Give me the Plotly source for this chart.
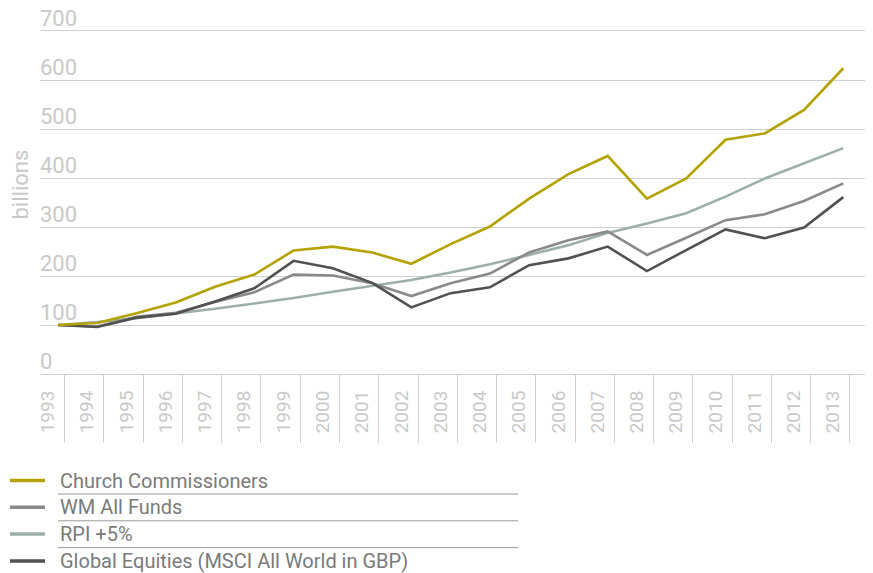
import plotly.graph_objects as go

years = list(range(1993, 2014))

series_names = [
    "Church Commissioners",
    "WM All Funds",
    "RPI +5%",
    "Global Equities (MSCI All World in GBP)",
]

church = [100, 104, 124, 146, 178, 203, 252, 260, 248, 225, 265, 301, 358, 408,
          445, 358, 399, 478, 491, 539, 624]
wm_all = [100, 97, 117, 125, 147, 167, 203, 201, 185, 159, 185, 205, 248, 273,
          291, 243, 278, 314, 326, 353, 389]
rpi_5 = [100, 106, 114, 123, 133, 144, 155, 168, 180, 192, 207, 224, 243, 263,
         288, 307, 328, 362, 399, 430, 461]
global_eq = [100, 96, 115, 123, 148, 175, 231, 216, 186, 136, 165, 177, 222, 236,
             260, 210, 253, 295, 277, 299, 361]

y_ticks = [0, 100, 200, 300, 400, 500, 600, 700]

_COLORS = ["#B3A200", "#8A8A8A", "#9DAFA9", "#515151"]
_FONT = "Roboto, Arial, sans-serif"
_TICK_GREY = "#C9C9C9"
_GRID = "#CFCFCF"

# the page body has an 8px margin, so the figure is drawn 8px in from the corner
OFF = 8
FIG_W, FIG_H = 873 - OFF, 573 - OFF

# plot area in window pixels: x 40..865, y 31..374
PX_L, PX_R, PX_T, PX_B = 40, 865, 31, 374


def _px(x, y):
    return (x - PX_L) / (PX_R - PX_L), (PX_B - y) / (PX_B - PX_T)


fig = go.Figure()

all_series = [church, wm_all, rpi_5, global_eq]
# lightest first so the darker lines sit on top
for idx in [2, 1, 3, 0]:
    fig.add_trace(
        go.Scatter(
            x=years,
            y=all_series[idx],
            mode="lines",
            name=series_names[idx],
            line=dict(color=_COLORS[idx], width=2.6),
        )
    )

shapes = []
annotations = []
for i, name in enumerate(series_names):
    yc = 480.5 + 26.8 * i
    x0, y0 = _px(10, yc)
    x1, _ = _px(45, yc)
    shapes.append(dict(type="line", xref="paper", yref="paper", x0=x0, x1=x1,
                       y0=y0, y1=y0, line=dict(color=_COLORS[i], width=3.5)))
    tx, _ = _px(58, yc)
    annotations.append(dict(xref="paper", yref="paper", x=tx, y=y0, text=name,
                            showarrow=False, xanchor="left", yanchor="middle",
                            font=dict(family=_FONT, size=20, color="#7A7A7A")))
    if i < len(series_names) - 1:
        ux0, uy = _px(58, yc + 13.5)
        ux1, _ = _px(518, yc + 13.5)
        shapes.append(dict(type="line", xref="paper", yref="paper", x0=ux0, x1=ux1,
                           y0=uy, y1=uy, line=dict(color="#9A9A9A", width=1)))

bx, by = _px(19.5, 185)
annotations.append(dict(xref="paper", yref="paper", x=bx, y=by, text="billions",
                        showarrow=False, textangle=-90, xanchor="center", yanchor="middle",
                        font=dict(family=_FONT, size=22, color=_TICK_GREY)))

fig.update_layout(
    width=FIG_W,
    height=FIG_H,
    margin=dict(l=PX_L - OFF, r=873 - PX_R, t=PX_T - OFF, b=573 - PX_B, autoexpand=False),
    plot_bgcolor="white",
    paper_bgcolor="white",
    showlegend=False,
    shapes=shapes,
    annotations=annotations,
    xaxis=dict(
        range=[1992.542, 2013.553],
        tickvals=years,
        ticktext=[str(y) for y in years],
        tickangle=-90,
        ticklabelshift=-10,
        ticklabelstandoff=8,
        ticklabeloverflow="allow",
        automargin=False,
        ticks="",
        showgrid=False,
        zeroline=False,
        showline=True,
        mirror=True,
        linecolor=_GRID,
        linewidth=1,
        tickfont=dict(family=_FONT, size=19, color=_TICK_GREY),
        minor=dict(
            tickvals=[y + 0.17 for y in years],
            ticks="outside",
            ticklen=68,
            tickwidth=1,
            tickcolor="#D2D2D2",
            showgrid=False,
        ),
    ),
    yaxis=dict(
        range=[0, 700],
        tickvals=y_ticks,
        ticklabelposition="inside top",
        ticklabeloverflow="allow",
        ticklabelstandoff=-3,
        ticklabelshift=3,
        automargin=False,
        showgrid=True,
        gridcolor=_GRID,
        gridwidth=1,
        zeroline=False,
        showline=False,
        ticks="",
        tickfont=dict(family=_FONT, size=22, color=_TICK_GREY),
    ),
)

fig.write_html("out.html")
